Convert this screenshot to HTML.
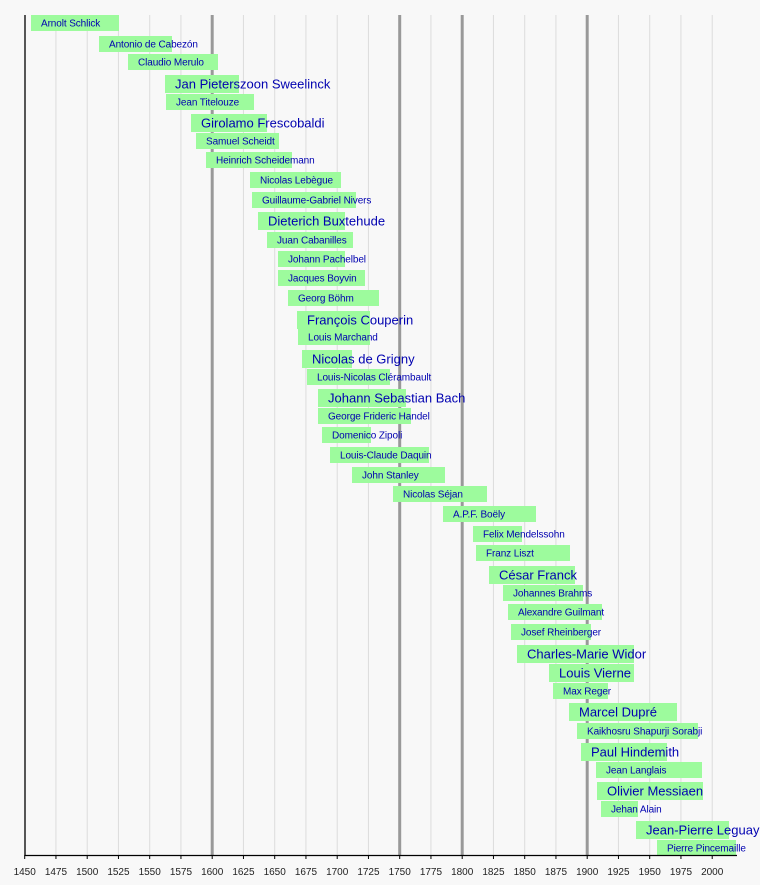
<!DOCTYPE html>
<html><head><meta charset="utf-8"><style>
html,body{margin:0;padding:0;background:#f8f8f8;}
svg{display:block;font-family:"Liberation Sans",Arial,sans-serif;}
.s{font-size:10px;fill:#0000b0;letter-spacing:-0.1px}
.l{font-size:13px;fill:#0000b0;letter-spacing:0px}
.t{font-size:10px;fill:#222;text-anchor:middle}
</style></head><body>
<svg width="760" height="885" xmlns="http://www.w3.org/2000/svg">
<rect width="760" height="885" fill="#f8f8f8"/>
<g id="grid" stroke="#dcdcdc" stroke-width="1"></g>
<g id="bars"></g>
<line x1="25" y1="15" x2="25" y2="856" stroke="#000" stroke-width="1.3"/>
<line x1="25" y1="855.5" x2="737" y2="855.5" stroke="#000" stroke-width="1.3"/>
<g id="ticks"></g>
<script>
var ns="http://www.w3.org/2000/svg";
function el(p,n,a,t){var e=document.createElementNS(ns,n);for(var k in a)e.setAttribute(k,a[k]);if(t)e.textContent=t;document.getElementById(p).appendChild(e);return e;}
for(var y=1450;y<=2000;y+=25){var x=24.7+(y-1450)*1.25;
 var dark=(y==1600||y==1750||y==1800||y==1900);
 if(y>1450)el("grid","line",{x1:x,y1:15,x2:x,y2:855,stroke:dark?"#999":"#dcdcdc","stroke-width":dark?3:1});
 el("ticks","line",{x1:x,y1:855,x2:x,y2:859,stroke:"#000","stroke-width":1});
 el("ticks","text",{x:x,y:875,"class":"t"},String(y));}
var d=[
["Arnolt Schlick",31,119,23,0],["Antonio de Cabezón",99,172,44,0],["Claudio Merulo",128,218,62,0],
["Jan Pieterszoon Sweelinck",165,239,84,1],["Jean Titelouze",166,254,102,0],["Girolamo Frescobaldi",191,267,123,1],
["Samuel Scheidt",196,279,141,0],["Heinrich Scheidemann",206,292,160,0],["Nicolas Lebègue",250,341,180,0],
["Guillaume-Gabriel Nivers",252,356,200,0],["Dieterich Buxtehude",258,345,221,1],["Juan Cabanilles",267,353,240,0],
["Johann Pachelbel",278,345,259,0],["Jacques Boyvin",278,365,278,0],["Georg Böhm",288,379,298,0],
["François Couperin",297,370,320,1],["Louis Marchand",298,370,337,0],["Nicolas de Grigny",302,352,359,1],
["Louis-Nicolas Clérambault",307,390,377,0],["Johann Sebastian Bach",318,406,398,1],["George Frideric Handel",318,411,416,0],
["Domenico Zipoli",322,371,435,0],["Louis-Claude Daquin",330,429,455,0],["John Stanley",352,445,475,0],
["Nicolas Séjan",393,487,494,0],["A.P.F. Boëly",443,536,514,0],["Felix Mendelssohn",473,522,534,0],
["Franz Liszt",476,570,553,0],["César Franck",489,575,575,1],["Johannes Brahms",503,583,593,0],
["Alexandre Guilmant",508,602,612,0],["Josef Rheinberger",511,591,632,0],["Charles-Marie Widor",517,634,654,1],
["Louis Vierne",549,634,673,1],["Max Reger",553,608,691,0],["Marcel Dupré",569,677,712,1],
["Kaikhosru Shapurji Sorabji",577,698,731,0],["Paul Hindemith",581,667,752,1],["Jean Langlais",596,702,770,0],
["Olivier Messiaen",597,703,791,1],["Jehan Alain",601,638,809,0],["Jean-Pierre Leguay",636,729,830,1],
["Pierre Pincemaille",657,736,848,0]];
d.forEach(function(r){var h=r[4]?18:16;
 el("bars","rect",{x:r[1],y:r[3]-h/2,width:r[2]-r[1],height:h,fill:"#9dfb9d"});
 el("bars","text",{x:r[1]+10,y:r[3]+(r[4]?4.5:3.5),"class":r[4]?"l":"s"},r[0]);});
</script>
</svg>
</body></html>
